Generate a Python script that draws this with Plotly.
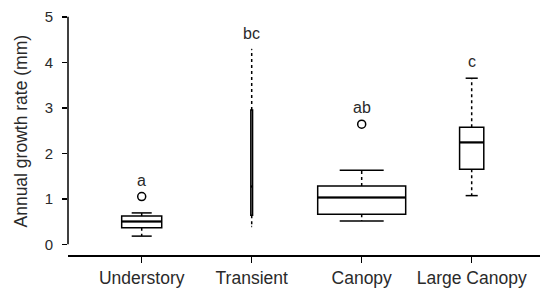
import plotly.graph_objects as go

# ---- data ----
categories = ["Understory", "Transient", "Canopy", "Large Canopy"]
lower_whisker = [0.18, 0.39, 0.51, 1.07]
q1 = [0.365, 0.64, 0.66, 1.65]
median = [0.50, 1.27, 1.03, 2.24]
q3 = [0.62, 2.95, 1.28, 2.57]
upper_whisker = [0.69, 4.28, 1.63, 3.65]
outlier_group = ["Understory", "Canopy"]
outlier_values = [1.05, 2.64]
letters = ["a", "bc", "ab", "c"]
y_ticks = [0, 1, 2, 3, 4, 5]

# ---- styling ----
box_widths = [0.364, 0.016, 0.80, 0.22]
FONT = "Arial, Liberation Sans, Helvetica, sans-serif"
TXT = "#2a2a2a"

pos = {c: i + 1 for i, c in enumerate(categories)}

fig = go.Figure()

# whiskers (dotted)
wx, wy = [], []
for c, lo, a, b, hi in zip(categories, lower_whisker, q1, q3, upper_whisker):
    p = pos[c]
    wx += [p, p, None, p, p, None]
    wy += [b, hi, None, a, lo, None]
fig.add_trace(go.Scatter(x=wx, y=wy, mode="lines",
                         line=dict(color="black", width=1.5, dash="dot"),
                         hoverinfo="skip", showlegend=False))

# whisker caps (solid, half box width)
cx, cy = [], []
for c, lo, hi, w in zip(categories, lower_whisker, upper_whisker, box_widths):
    p = pos[c]
    for v in (lo, hi):
        cx += [p - w / 4, p + w / 4, None]
        cy += [v, v, None]
fig.add_trace(go.Scatter(x=cx, y=cy, mode="lines",
                         line=dict(color="black", width=1.5),
                         hoverinfo="skip", showlegend=False))

# boxes
for c, a, m, b, w in zip(categories, q1, median, q3, box_widths):
    fig.add_trace(go.Box(
        x=[pos[c]], q1=[a], median=[m], q3=[b],
        lowerfence=[a], upperfence=[b],
        width=w, whiskerwidth=0,
        fillcolor="white", line=dict(color="black", width=1.5),
        boxpoints=False, showlegend=False, name=c,
    ))

# median emphasis
mx, my = [], []
for c, m, w in zip(categories, median, box_widths):
    p = pos[c]
    mx += [p - w / 2, p + w / 2, None]
    my += [m, m, None]
fig.add_trace(go.Scatter(x=mx, y=my, mode="lines",
                         line=dict(color="black", width=2),
                         hoverinfo="skip", showlegend=False))

# outliers
fig.add_trace(go.Scatter(
    x=[pos[g] for g in outlier_group], y=outlier_values, mode="markers",
    marker=dict(symbol="circle-open", size=8, color="black", line=dict(width=1.5)),
    hoverinfo="skip", showlegend=False))

# significance letters
tops = []
for c, hi in zip(categories, upper_whisker):
    vals = [hi] + [v for g, v in zip(outlier_group, outlier_values) if g == c]
    tops.append(max(vals))
for c, t, lab in zip(categories, tops, letters):
    fig.add_annotation(x=pos[c], y=t + 0.36, text=lab, showarrow=False,
                       xanchor="center", yanchor="middle",
                       font=dict(family=FONT, size=16, color=TXT))

# y axis line (only over the tick range)
fig.add_shape(type="line", xref="paper", yref="y", x0=0, x1=0,
              y0=y_ticks[0], y1=y_ticks[-1], line=dict(color="black", width=1.5))

# y axis title
fig.add_annotation(xref="paper", yref="paper", x=-48 / 472, y=0.5,
                   text="Annual growth rate (mm)", textangle=-90, showarrow=False,
                   xanchor="center", yanchor="middle",
                   font=dict(family=FONT, size=17.5, color=TXT))

fig.update_layout(
    width=540, height=290,
    margin=dict(l=68, r=0, t=8, b=35),
    paper_bgcolor="white", plot_bgcolor="white",
    boxmode="overlay",
    xaxis=dict(range=[0.33, 4.621], tickvals=[pos[c] for c in categories],
               ticktext=categories, showgrid=False, zeroline=False,
               showline=True, linecolor="black", linewidth=1.5,
               ticks="outside", ticklen=6, tickwidth=1.5, tickcolor="black",
               tickfont=dict(family=FONT, size=17.5, color=TXT)),
    yaxis=dict(range=[-0.235, 5.193], tickvals=y_ticks, showgrid=False,
               zeroline=False, showline=False,
               ticks="outside", ticklen=5, tickwidth=1.5, tickcolor="black",
               ticklabelstandoff=6,
               tickfont=dict(family=FONT, size=15, color=TXT)),
)

fig.write_html("out.html",
               config={"displayModeBar": False, "staticPlot": True},
               post_script="document.body.style.margin='0';document.body.style.overflow='hidden';")
